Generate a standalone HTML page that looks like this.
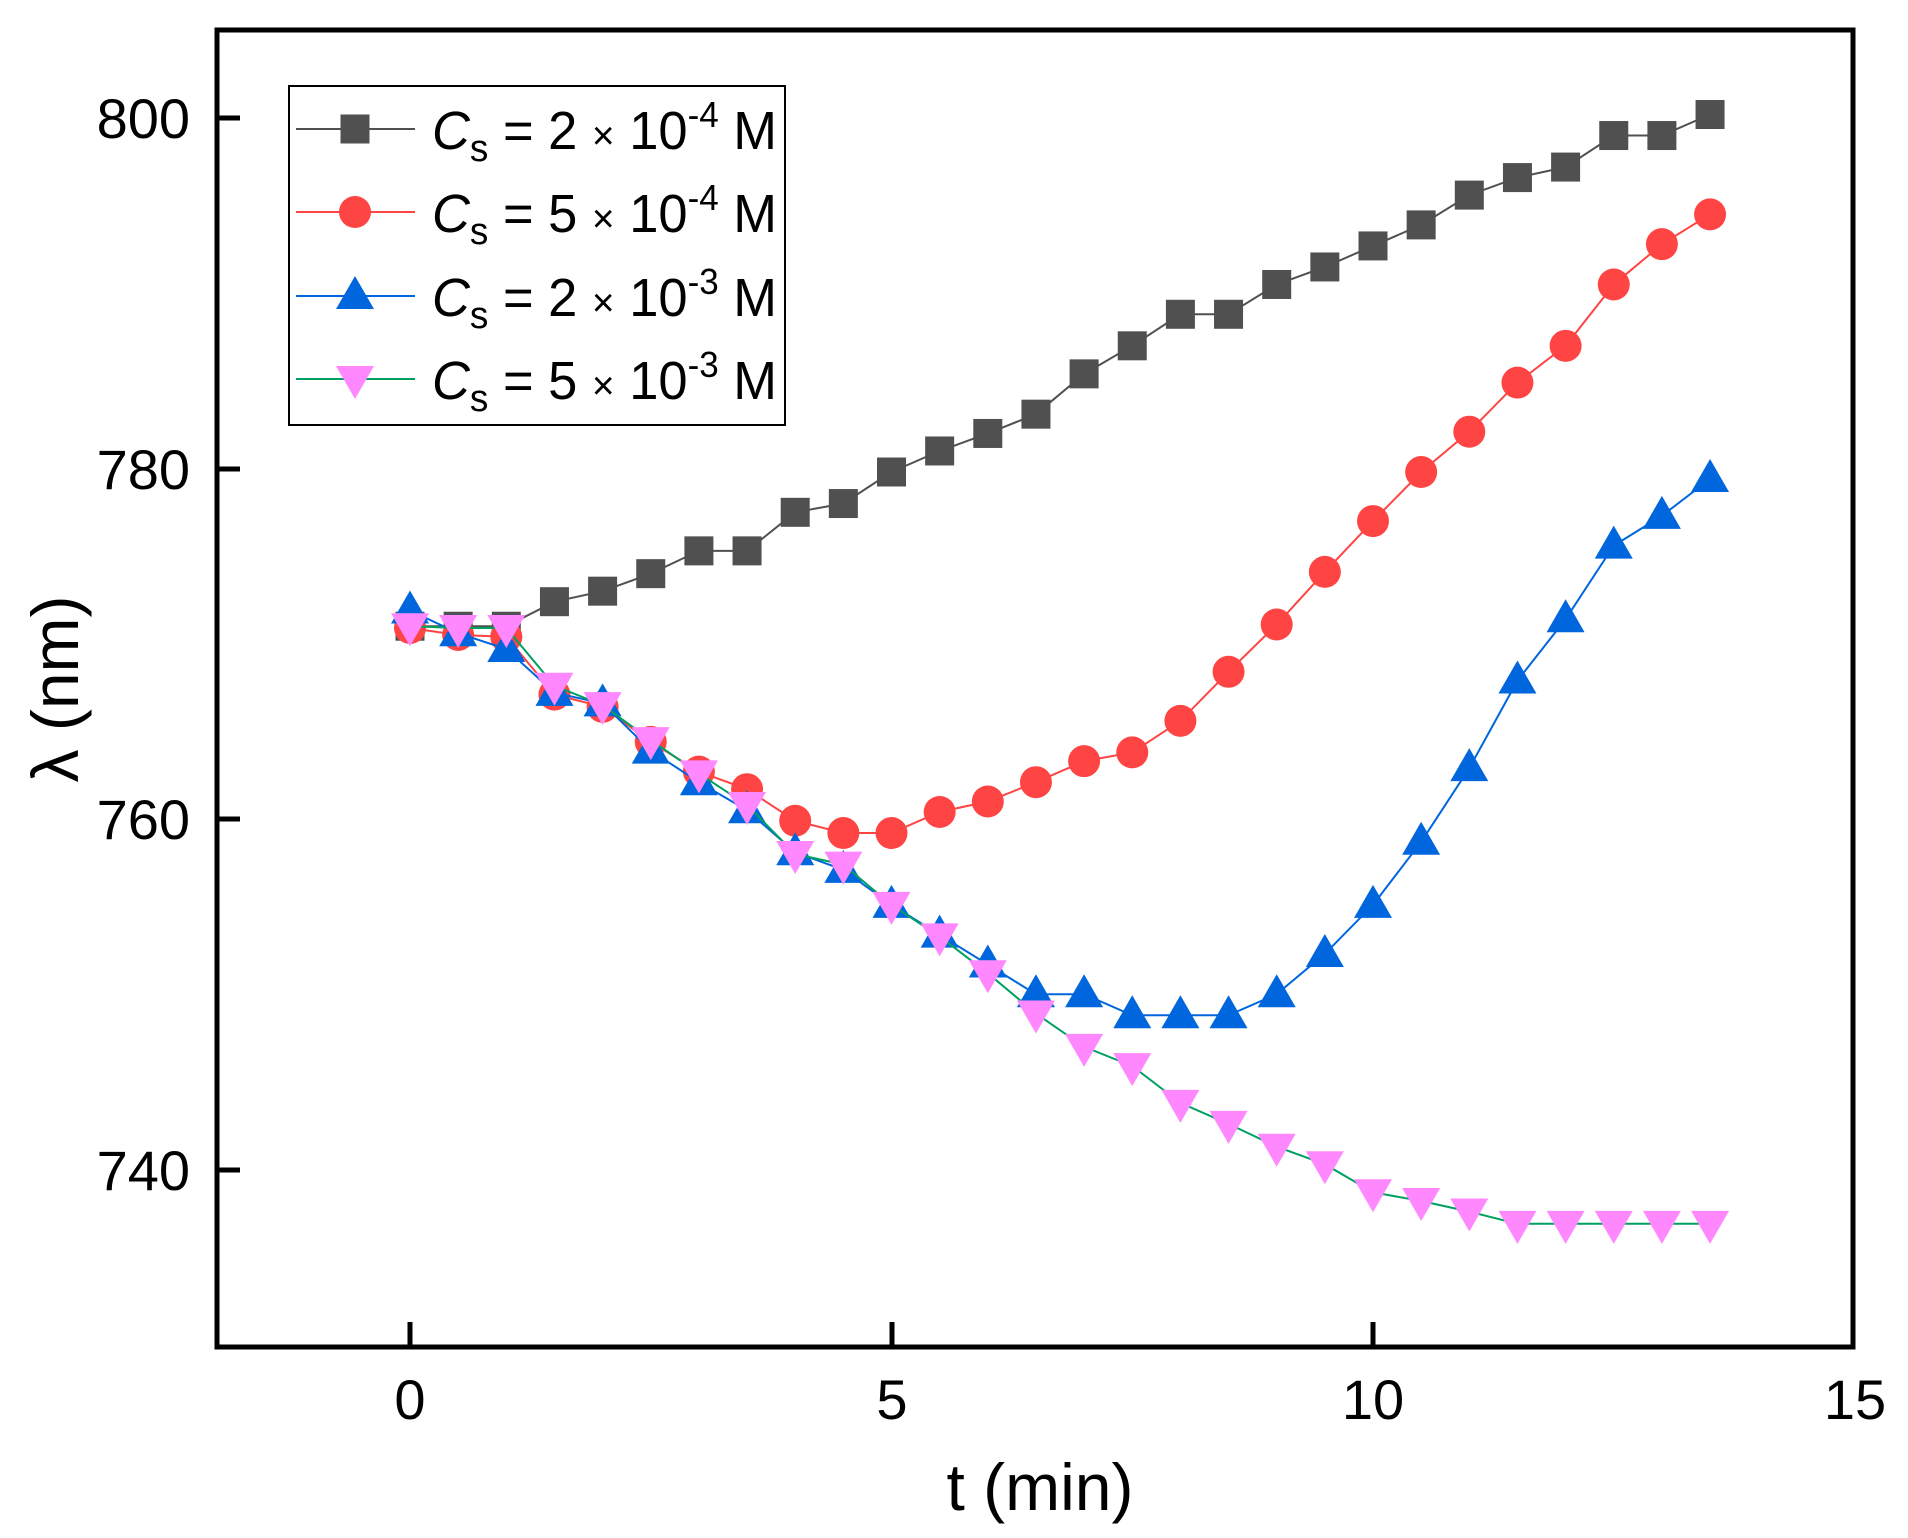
<!DOCTYPE html>
<html><head><meta charset="utf-8"><style>
html,body{margin:0;padding:0;background:#fff;}
svg{display:block;font-family:"Liberation Sans",Arial,sans-serif;}
</style></head><body>
<svg id="s" width="1908" height="1538" viewBox="0 0 1908 1538" xmlns="http://www.w3.org/2000/svg">
<rect width="1908" height="1538" fill="#fff"/>
<g id="plot"></g>
<rect x="217" y="30" width="1636" height="1317" fill="none" stroke="#000" stroke-width="5"/>
<g stroke="#000" stroke-width="5">
<line x1="217" y1="118" x2="240" y2="118"/>
<line x1="217" y1="469" x2="240" y2="469"/>
<line x1="217" y1="819" x2="240" y2="819"/>
<line x1="217" y1="1170" x2="240" y2="1170"/>
<line x1="410" y1="1347" x2="410" y2="1322"/>
<line x1="892" y1="1347" x2="892" y2="1322"/>
<line x1="1373" y1="1347" x2="1373" y2="1322"/>
</g>
<g font-size="56" text-anchor="end" fill="#000">
<text x="190" y="138">800</text>
<text x="190" y="489">780</text>
<text x="190" y="839">760</text>
<text x="190" y="1190">740</text>
</g>
<g font-size="56" text-anchor="middle" fill="#000">
<text x="410" y="1419">0</text>
<text x="892" y="1419">5</text>
<text x="1373" y="1419">10</text>
<text x="1855" y="1419">15</text>
<text x="1040" y="1510" font-size="66">t (min)</text>
<text transform="translate(78,689) rotate(-90)" font-size="66">λ (nm)</text>
</g>
<rect x="289" y="86" width="496" height="339" fill="#fff" stroke="#000" stroke-width="2"/>
<g id="leg"></g>
</svg>
<script>
var X=t=>410+96.3*t, Y=v=>118+(800-v)*17.525;
var S=[
{c:'#505050',l:'#505050',m:'sq',d:[771,771,771,772.4,773,774,775.3,775.3,777.5,778,779.8,781,782,783.1,785.4,787,788.8,788.8,790.5,791.5,792.7,793.9,795.6,796.6,797.2,799,799,800.2]},
{c:'#ff4444',l:'#ff4444',m:'ci',d:[770.9,770.5,770.4,767.1,766.4,764.4,762.7,761.7,759.9,759.2,759.2,760.4,761,762.1,763.3,763.8,765.6,768.4,771.1,774.1,777.0,779.8,782.1,784.9,787,790.5,792.8,794.5]},
{c:'#0066dd',l:'#0066dd',m:'tu',d:[771.9,770.6,769.7,767.2,766.6,763.9,762.1,760.5,758.1,757.1,755.1,753.4,751.7,750,750,748.8,748.8,748.8,750,752.3,755.1,758.7,762.9,767.9,771.4,775.6,777.3,779.4]},
{c:'#ff88ff',l:'#00a060',m:'td',d:[771,770.9,770.9,767.6,766.5,764.5,762.6,760.8,758,757.4,755.1,753.3,751.2,748.9,747,745.9,743.8,742.6,741.3,740.3,738.7,738.2,737.6,736.9,736.9,736.9,736.9,736.9]}];
function mk(m,x,y,c){
 if(m=='sq')return `<rect x="${x-14.5}" y="${y-14.5}" width="29" height="29" fill="${c}"/>`;
 if(m=='ci')return `<circle cx="${x}" cy="${y}" r="16" fill="${c}"/>`;
 if(m=='tu')return `<polygon points="${x},${y-20} ${x-19},${y+13} ${x+19},${y+13}" fill="${c}"/>`;
 return `<polygon points="${x},${y+20} ${x-19},${y-13} ${x+19},${y-13}" fill="${c}"/>`;
}
var h='';
S.forEach(s=>{
 var p=s.d.map((v,i)=>X(i*0.5).toFixed(1)+','+Y(v).toFixed(1)).join(' ');
 h+=`<polyline points="${p}" fill="none" stroke="${s.l}" stroke-width="2"/>`;
 s.d.forEach((v,i)=>h+=mk(s.m,X(i*0.5),Y(v),s.c));
});
document.getElementById('plot').innerHTML=h;
var L=[['2','-4'],['5','-4'],['2','-3'],['5','-3']],ys=[129,212,296,379],g='';
S.forEach((s,i)=>{var y=ys[i];
 g+=`<line x1="296" y1="${y}" x2="415" y2="${y}" stroke="${s.l}" stroke-width="2"/>`+mk(s.m,355,y,s.c);
 g+=`<text x="432" y="${y+20}" font-size="54" textLength="345" lengthAdjust="spacingAndGlyphs"><tspan font-style="italic">C</tspan><tspan font-size="38" dy="12">s</tspan><tspan dy="-12"> = ${L[i][0]} </tspan><tspan font-size="40">×</tspan><tspan> 10</tspan><tspan font-size="36" dy="-22">${L[i][1]}</tspan><tspan dy="22"> M</tspan></text>`;
});
document.getElementById('leg').innerHTML=g;
</script>
</body></html>
